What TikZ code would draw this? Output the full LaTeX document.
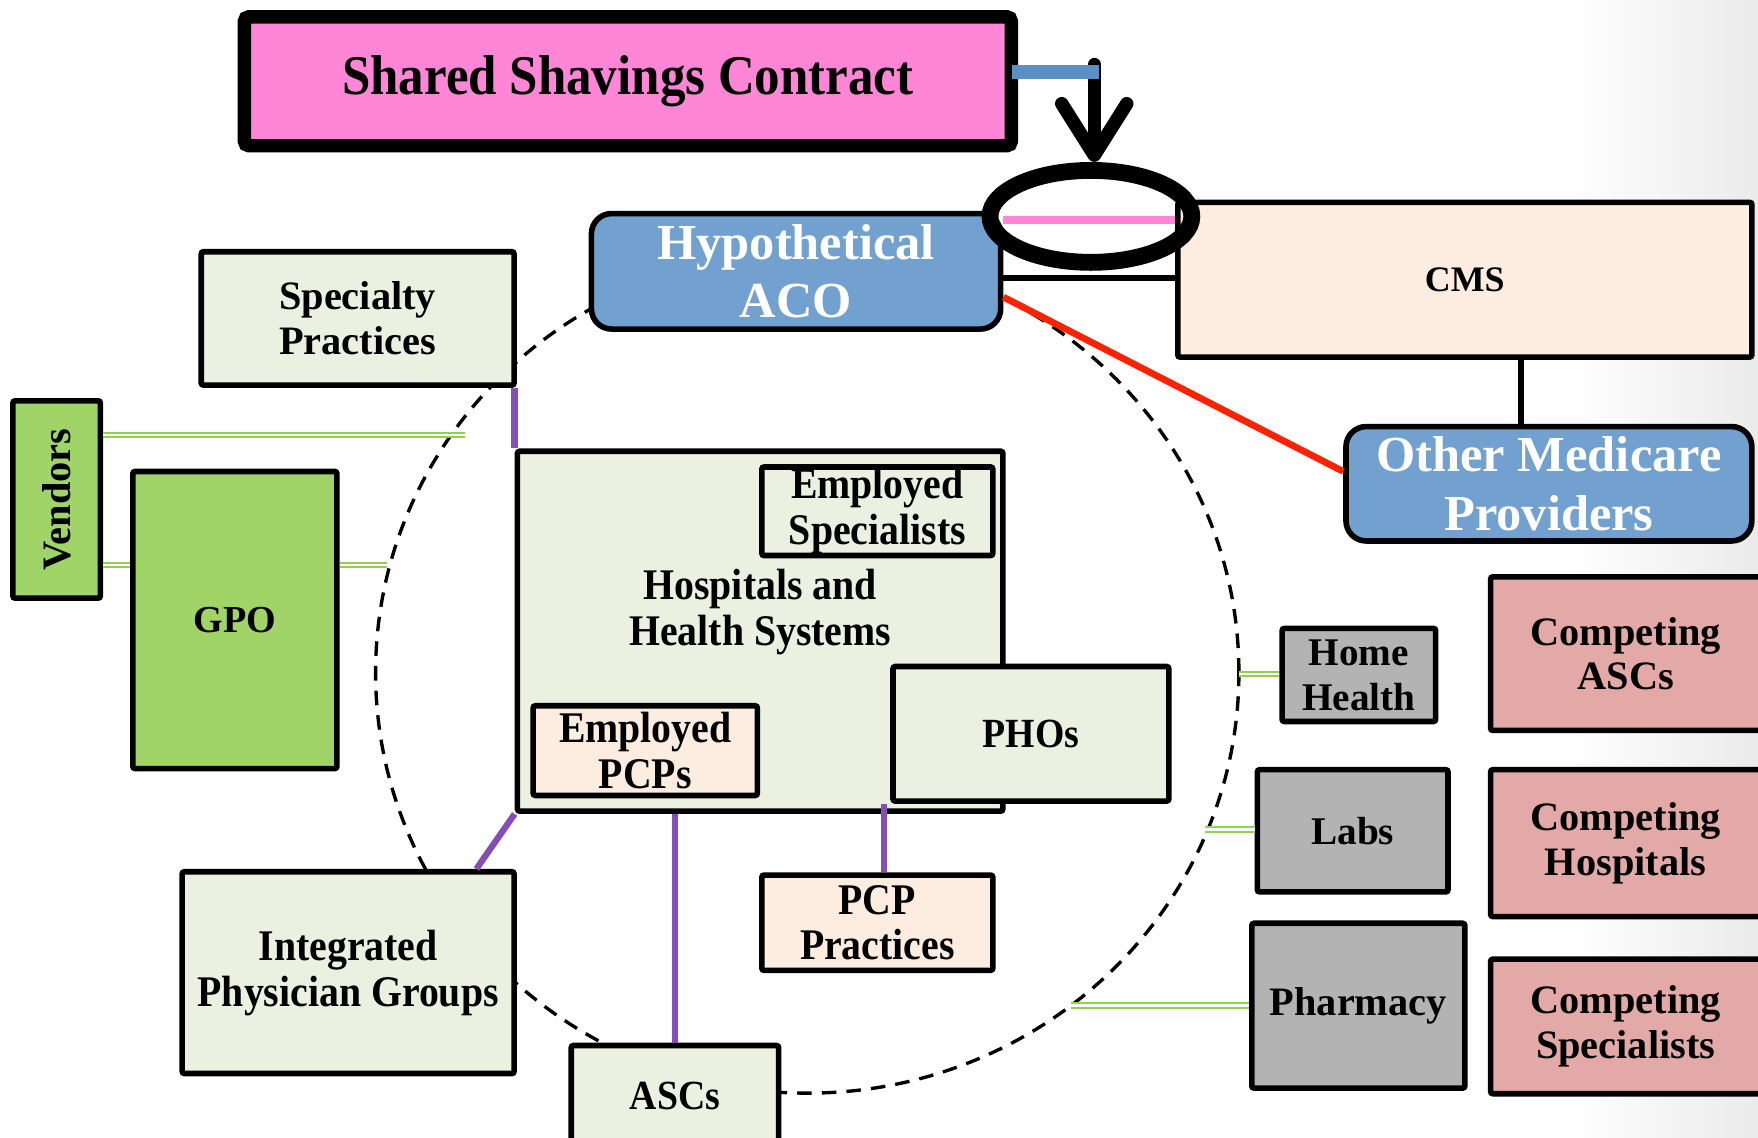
\documentclass[tikz,border=0pt]{standalone}
\usepackage{fontspec}
\setmainfont{Liberation Serif}
\newfontfamily\narrowserif{Liberation Serif}[FakeStretch=0.91]
\usetikzlibrary{shapes.geometric,arrows.meta,calc}

\definecolor{contractpink}{RGB}{255,133,214}
\definecolor{tabblue}{RGB}{91,144,198}
\definecolor{acoblue}{RGB}{114,161,208}
\definecolor{peach}{RGB}{253,237,224}
\definecolor{sage}{RGB}{235,240,225}
\definecolor{leaf}{RGB}{161,212,102}
\definecolor{stone}{RGB}{179,179,179}
\definecolor{rose}{RGB}{226,169,167}
\definecolor{linkviolet}{RGB}{133,77,181}
\definecolor{linkred}{RGB}{255,34,0}
\definecolor{linkgreen}{RGB}{146,208,80}

\newcommand{\tfnormal}{\fontsize{18}{20}\selectfont\bfseries}
\newcommand{\tfblue}{\fontsize{22.5}{26}\selectfont\bfseries}
\newcommand{\tfnarrow}{\narrowserif\fontsize{19.5}{20.5}\selectfont\bfseries}

% box from outer corner (x1,y1) to (x2,y2), border 2.5pt
\newcommand{\placebox}[7]{%
  \node[#6, minimum width={(#4-#2-5)*0.5pt}, minimum height={(#5-#3-5)*0.5pt}]
    (#1) at ({(#2+#4)/2},{(#3+#5)/2}) {#7};}

\tikzset{
  box/.style={draw=black, line width=2.5pt, rounded corners=1pt, inner sep=0pt,
    align=center, font=\tfnormal},
  sagebox/.style={box, fill=sage},
  peachbox/.style={box, fill=peach},
  leafbox/.style={box, fill=leaf},
  stonebox/.style={box, fill=stone},
  rosebox/.style={box, fill=rose},
  bluebox/.style={box, fill=acoblue, rounded corners=9pt, text=white, font=\tfblue},
  greenlink/.style={draw=linkgreen, double=white, line width=0.9pt, double distance=1.1pt},
  violetlink/.style={draw=linkviolet, line width=2.8pt},
  blacklink/.style={draw=black, line width=3pt},
  orbit/.style={draw=black, line width=1.5pt, dash pattern=on 6.5pt off 4.5pt},
}

\begin{document}
\begin{tikzpicture}[x=0.5pt, y=-0.5pt]
\clip (0,0) rectangle (1568,1015);
\fill[white] (0,0) rectangle (1568,1015);
\fill[left color=white, right color=black!8] (1400,0) rectangle (1568,1015);

% dashed boundary of the ACO
\draw[orbit] (720,600) ellipse [x radius=192.5pt, y radius=187.5pt];

% end points of the supplier links on the boundary
\coordinate (vendTip) at (415,388);
\coordinate (gpoTip) at (345,504);
\coordinate (hhTip) at (1105,601);
\coordinate (labsTip) at (1075,740);
\coordinate (pharmTip) at (955,897);

% boxes
\node[draw=black, fill=contractpink, line width=6pt, rounded corners=2pt,
  minimum width=342pt, minimum height=57.5pt, inner sep=0pt,
  font={\narrowserif\fontsize{25}{26}\selectfont\bfseries}]
  (contract) at (560,72.5) {Shared Shavings Contract};

\placebox{cms}{1048}{178}{1565}{321}{peachbox, font=\fontsize{16}{18}\selectfont\bfseries}{CMS}
\placebox{omp}{1198}{378}{1565}{485}{bluebox}{Other Medicare\\Providers}
\placebox{aco}{525}{188}{895}{296}{bluebox}{Hypothetical\\ACO}

\placebox{spec}{177}{222}{461}{346}{sagebox}{Specialty\\Practices}
\placebox{vend}{9}{355}{92}{536}{leafbox}{}
\node[rotate=90, font=\tfnormal] (vendText) at (vend) {Vendors};
\placebox{gpo}{116}{418}{303}{688}{leafbox, font=\fontsize{17}{18}\selectfont\bfseries}{GPO}

\placebox{hosp}{459}{400}{897}{726}{sagebox}{}
\node[align=center, font=\tfnarrow] (hospText) at (678,546) {Hospitals and\\Health Systems};
\placebox{espec}{677}{414}{888}{498}{sagebox, font=\tfnarrow}{Employed\\Specialists\rule[-3pt]{0pt}{3pt}}
\placebox{epcp}{473}{627}{678}{712}{peachbox, font=\tfnarrow}{Employed\\PCPs}
\placebox{phos}{794}{592}{1045}{717}{sagebox, font={\narrowserif\fontsize{18.5}{19}\selectfont\bfseries}}{PHOs}

\placebox{ipg}{160}{775}{461}{960}{sagebox, font=\tfnarrow}{Integrated\\Physician Groups}
\placebox{asc}{507}{930}{697}{1025}{sagebox, font={\narrowserif\fontsize{18.5}{19}\selectfont\bfseries}}{ASCs}
\placebox{pcp}{677}{778}{888}{868}{peachbox, font=\tfnarrow}{PCP\\Practices}

\placebox{hh}{1141}{558}{1283}{646}{stonebox, font=\fontsize{17.5}{20}\selectfont\bfseries}{Home\\Health}
\placebox{labs}{1119}{684}{1294}{798}{stonebox, font=\fontsize{17.5}{18}\selectfont\bfseries}{Labs}
\placebox{pharm}{1114}{821}{1309}{973}{stonebox}{Pharmacy}

\placebox{casc}{1327}{512}{1573}{654}{rosebox}{Competing\\ASCs}
\placebox{chosp}{1327}{684}{1573}{820}{rosebox}{Competing\\Hospitals}
\placebox{cspec}{1327}{853}{1573}{978}{rosebox}{Competing\\Specialists}

% supplier links
\draw[greenlink] (vend.east |- vendTip) -- (vendTip);
\draw[greenlink] (vend.east |- gpoTip) -- (gpo.west |- gpoTip);
\draw[greenlink] (gpo.east |- gpoTip) -- (gpoTip);
\draw[greenlink] (hh.west |- hhTip) -- (hhTip);
\draw[greenlink] (labs.west |- labsTip) -- (labsTip);
\draw[greenlink] (pharm.west |- pharmTip) -- (pharmTip);

% member links
\draw[violetlink] (hosp.north west |- spec.south) -- (hosp.north west);
\draw[violetlink] (hosp.south west) -- ($(ipg.north west)!0.88!(ipg.north east)$);
\draw[violetlink] (asc.north |- hosp.south) -- (asc.north);
\draw[violetlink] ([xshift=3pt]pcp.north |- phos.south) -- ([xshift=3pt]pcp.north);

% Medicare links
\coordinate (ompTop) at ($(omp.north west)!0.432!(omp.north east)$);
\draw[blacklink] (ompTop |- cms.south) -- (ompTop);
\draw[draw=linkred, line width=3pt] ($(aco.east)+(0,23)$) -- ($(omp.west)+(0,-11)$);
\coordinate (acoBlack) at ($(aco.east)+(0,6)$);
\draw[blacklink] (acoBlack) -- (acoBlack -| cms.west);
\coordinate (acoPink) at ($(aco.north east)+(0,8)$);
\draw[draw=contractpink, line width=3.5pt] (acoPink) -- (acoPink -| cms.west);

% contract highlight
\node[draw=black, ellipse, line width=7.5pt, minimum width=90pt, minimum height=41pt,
  inner sep=0pt] (ring) at (973,193) {};
\node[fill=tabblue, minimum width=38.5pt, minimum height=6pt, inner sep=0pt]
  (tab) at (941.5,64) {};
\coordinate (arrowEnd) at ($(ring.north)+(3,0)$);
\draw[line width=6pt, line cap=round, line join=round,
  -{Straight Barb[length=23pt, width=29pt, round]}]
  (arrowEnd |- tab.north) -- (arrowEnd);
\fill[tabblue] (tab.north west) rectangle (tab.south east);
\end{tikzpicture}
\end{document}
